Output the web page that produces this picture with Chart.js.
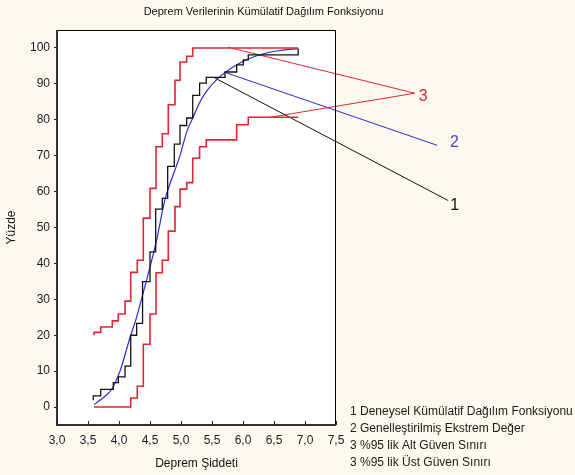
<!DOCTYPE html>
<html><head><meta charset="utf-8">
<script src="https://cdn.jsdelivr.net/npm/chart.js@4/dist/chart.umd.min.js"></script>
<style>html,body{margin:0;padding:0;background:#fdf9ef;}#wrap{width:575px;height:475px;}</style>
</head><body><div id="wrap"><canvas id="c" width="575" height="475"></canvas></div>
<script>
// ---- data ----
const chartTitle = 'Deprem Verilerinin Kümülatif Dağılım Fonksiyonu';
const xTitle = 'Deprem Şiddeti';
const yTitle = 'Yüzde';
const xTickValues = [3.0, 3.5, 4.0, 4.5, 5.0, 5.5, 6.0, 6.5, 7.0, 7.5];
const xTickLabels = ['3,0', '3,5', '4,0', '4,5', '5,0', '5,5', '6,0', '6,5', '7,0', '7,5'];
const yTickValues = [0, 10, 20, 30, 40, 50, 60, 70, 80, 90, 100];
const yTickLabels = ['0', '10', '20', '30', '40', '50', '60', '70', '80', '90', '100'];

// 1: empirical cumulative distribution (step)
const ecdfX = [3.585, 3.585, 3.705, 3.908, 3.989, 4.097, 4.189, 4.285, 4.38, 4.5, 4.592, 4.698, 4.785, 4.892, 4.984, 5.092, 5.189, 5.3, 5.408, 5.71, 5.898, 6.005, 6.085, 6.89];
const ecdfY = [1.9, 3.1, 4.9, 6.8, 8.4, 11.4, 20.0, 23.3, 34.9, 43.2, 55.1, 58.1, 67.0, 73.2, 78.4, 80.5, 86.8, 90.2, 91.8, 93.3, 95.3, 96.7, 98.1, 99.8];
// 2: generalized extreme value fit
const gevX = [3.6, 3.69, 3.88, 4.02, 4.18, 4.27, 4.37, 4.6, 4.74, 4.87, 4.98, 5.09, 5.2, 5.31, 5.41, 5.6, 5.95, 6.27, 6.6, 6.89];
const gevY = [0.7, 1.9, 4.9, 10.2, 19.5, 24.2, 30.5, 46.0, 57.7, 64.5, 69.8, 76.5, 80.9, 85.1, 87.9, 91.6, 95.8, 98.1, 99.3, 99.8];
// 3: 95% lower confidence limit (step)
const lowerX = [3.597, 4.189, 4.295, 4.392, 4.5, 4.597, 4.698, 4.795, 4.903, 4.984, 5.092, 5.189, 5.3, 5.408, 5.898, 6.085, 6.89];
const lowerY = [0.0, 2.5, 5.8, 17.5, 25.9, 37.4, 40.9, 49.0, 55.8, 60.7, 62.5, 69.3, 72.5, 74.4, 78.6, 80.7, 80.7];
// 3: 95% upper confidence limit (step)
const upperX = [3.597, 3.597, 3.705, 3.892, 3.989, 4.097, 4.189, 4.295, 4.392, 4.5, 4.597, 4.698, 4.795, 4.903, 4.984, 5.092, 5.189, 6.89];
const upperY = [20.0, 20.8, 22.3, 24.0, 25.9, 29.5, 37.5, 40.9, 52.6, 60.9, 72.5, 76.1, 84.2, 91.0, 96.1, 97.7, 100.0, 100.0];

// leader lines to the curve numbers
const lead1X = [5.55, 9.31], lead1Y = [91.6, 57.5];
const lead2X = [5.71, 9.13], lead2Y = [93.2, 72.9];
const lead3X = [5.76, 8.77, 6.44], lead3Y = [100.2, 87.4, 80.7];
const leadLabels = ['1', '2', '3'];

const legendLines = [
  '1 Deneysel Kümülatif Dağılım Fonksiyonu',
  '2 Genelleştirilmiş Ekstrem Değer',
  '3 %95 lik Alt Güven Sınırı',
  '3 %95 lik Üst Güven Sınırı'
];

// ---- styles ----
const BLACK = '#111111', BLUE = '#2a2ad2', RED = '#dc2832';
const pts = (xs, ys) => xs.map((x, i) => ({ x: x, y: ys[i] }));

const paper = {
  id: 'paper',
  beforeDraw(chart) {
    const { ctx, chartArea: a } = chart;
    ctx.save();
    ctx.fillStyle = '#fdf9ef';
    ctx.fillRect(0, 0, chart.width, chart.height);
    ctx.fillStyle = '#ffffff';
    ctx.fillRect(a.left, a.top, a.right - a.left, a.bottom - a.top);
    ctx.restore();
  },
  afterDraw(chart) {
    const { ctx, chartArea: a, scales } = chart;
    ctx.save();
    // frame
    ctx.strokeStyle = '#000';
    ctx.lineWidth = 1;
    ctx.strokeRect(a.left + 0.5, a.top + 0.5, a.right - a.left - 1, a.bottom - a.top);
    ctx.strokeStyle = '#333';
    ctx.lineWidth = 2;
    ctx.beginPath();
    ctx.moveTo(a.left, a.top); ctx.lineTo(a.left, a.bottom); ctx.lineTo(a.right, a.bottom);
    ctx.stroke();
    // inward x ticks
    ctx.lineWidth = 1;
    ctx.strokeStyle = '#222';
    xTickValues.forEach(v => {
      const px = Math.round(scales.x.getPixelForValue(v)) + 0.5;
      ctx.beginPath(); ctx.moveTo(px, a.bottom); ctx.lineTo(px, a.bottom - 4); ctx.stroke();
    });
    // title
    ctx.fillStyle = '#111';
    ctx.font = '11px "Liberation Sans", Arial, sans-serif';
    ctx.textAlign = 'center';
    ctx.textBaseline = 'middle';
    ctx.fillText(chartTitle, (a.left + a.right) / 2 + 67, 12);
    // curve numbers
    const leadIdx = [4, 5, 6];
    const offs = [[2, 5], [13, -3], [4, 3]];
    const cols = [BLACK, '#4646d2', RED];
    ctx.font = '16px "Liberation Sans", Arial, sans-serif';
    ctx.textAlign = 'left';
    leadIdx.forEach((di, k) => {
      const p = chart.getDatasetMeta(di).data[1];
      ctx.fillStyle = cols[k];
      ctx.fillText(leadLabels[k], p.x + offs[k][0], p.y + offs[k][1]);
    });
    // legend text
    ctx.fillStyle = '#1a1a1a';
    ctx.font = '12px "Liberation Sans", Arial, sans-serif';
    legendLines.forEach((t, i) => ctx.fillText(t, 350, 412 + i * 17));
    ctx.restore();
  }
};

new Chart(document.getElementById('c'), {
  type: 'line',
  data: {
    datasets: [
      { data: pts(upperX, upperY), stepped: 'before', borderColor: RED, borderWidth: 1.6 },
      { data: pts(lowerX, lowerY), stepped: 'before', borderColor: RED, borderWidth: 1.6 },
      { data: pts(ecdfX, ecdfY), stepped: 'before', borderColor: BLACK, borderWidth: 1.3 },
      { data: pts(gevX, gevY), borderColor: BLUE, borderWidth: 1.2, cubicInterpolationMode: 'monotone' },
      { data: pts(lead1X, lead1Y), borderColor: BLACK, borderWidth: 1, clip: false },
      { data: pts(lead2X, lead2Y), borderColor: BLUE, borderWidth: 1, clip: false },
      { data: pts(lead3X, lead3Y), borderColor: RED, borderWidth: 1, clip: false }
    ]
  },
  options: {
    responsive: false,
    animation: false,
    devicePixelRatio: 1,
    parsing: true,
    elements: { point: { radius: 0 }, line: { fill: false, tension: 0 } },
    layout: { padding: { top: 30, right: 239, left: 0, bottom: 0 } },
    plugins: { legend: { display: false }, tooltip: { enabled: false }, title: { display: false } },
    scales: {
      x: {
        type: 'linear', min: 3, max: 7.5,
        afterFit: s => { s.height = 50; },
        afterBuildTicks: s => { s.ticks = xTickValues.map(v => ({ value: v })); },
        grid: { display: true, drawOnChartArea: false, drawTicks: false },
        border: { display: false },
        ticks: {
          padding: 8, color: '#1a1a2a', maxRotation: 0, autoSkip: false,
          font: { family: '"Liberation Sans", Arial, sans-serif', size: 12 },
          callback: (v) => { const i = xTickValues.indexOf(v); return i >= 0 ? xTickLabels[i] : ''; }
        },
        title: { display: true, text: xTitle, color: '#111', padding: { top: 0, bottom: 4 },
          font: { family: '"Liberation Sans", Arial, sans-serif', size: 12 } }
      },
      y: {
        type: 'linear', min: -5, max: 105,
        afterFit: s => { s.width = 57; },
        afterBuildTicks: s => { s.ticks = yTickValues.map(v => ({ value: v })); },
        grid: { display: true, drawOnChartArea: false, drawTicks: true, tickLength: 3, color: '#222' },
        border: { display: false },
        ticks: {
          padding: 4, color: '#1a1a2a', autoSkip: false,
          font: { family: '"Liberation Sans", Arial, sans-serif', size: 12 },
          callback: (v) => { const i = yTickValues.indexOf(v); return i >= 0 ? yTickLabels[i] : ''; }
        },
        title: { display: true, text: yTitle, color: '#111', padding: { top: 4, bottom: 0 },
          font: { family: '"Liberation Sans", Arial, sans-serif', size: 12 } }
      }
    }
  },
  plugins: [paper]
});
</script></body></html>
